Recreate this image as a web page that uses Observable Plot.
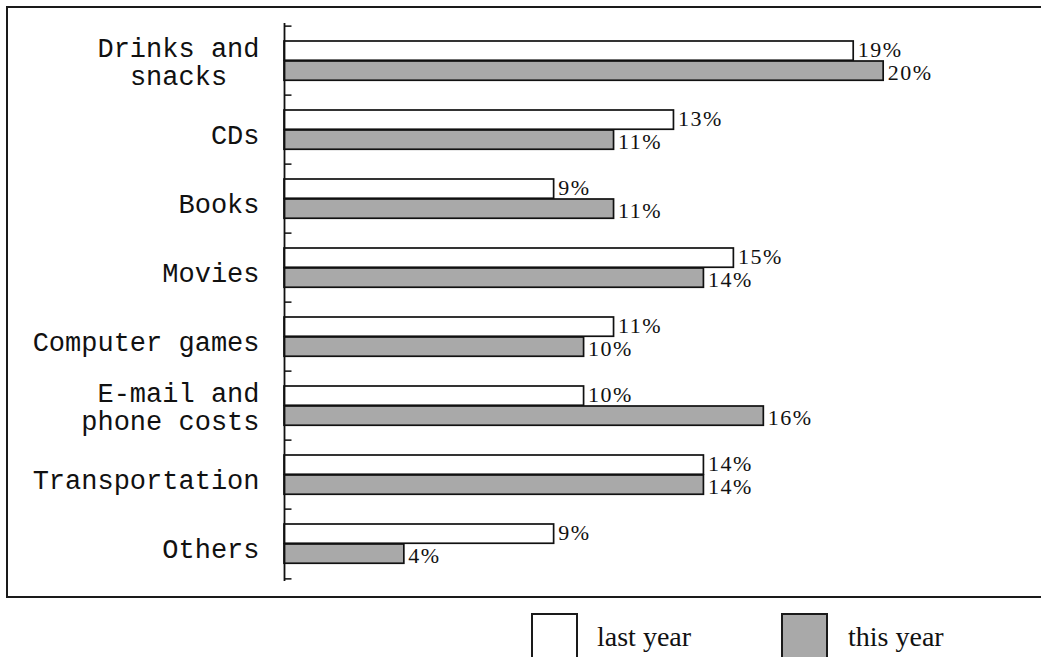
<!DOCTYPE html>
<html>
<head>
<meta charset="utf-8">
<script src="https://cdn.jsdelivr.net/npm/d3@7"></script>
<script src="https://cdn.jsdelivr.net/npm/@observablehq/plot@0.6"></script>
<style>
  html, body { margin: 0; padding: 0; background: #fff; overflow: hidden; width: 1041px; height: 657px; }
  #chart { position: absolute; left: 0; top: 0; }
  .ln { position: absolute; background: #1a1a1a; pointer-events: none; }
  .sw { position: absolute; top: 613px; width: 43px; height: 44px; border: 2px solid #1a1a1a; }
  .lt { position: absolute; top: 620px; font-family: "Liberation Serif", "Times New Roman", serif; font-size: 28px; color: #111; line-height: 34px; }
</style>
</head>
<body>
<div id="chart"></div>
<div class="ln" style="left:6px; top:6px; width:1035px; height:2px;"></div>
<div class="ln" style="left:6px; top:596px; width:1035px; height:2px;"></div>
<div class="ln" style="left:6px; top:6px; width:2px; height:592px;"></div>
<div class="sw" id="sw1" style="left:531px; background:#fff;"></div>
<div class="lt" id="lt1" style="left:597px;"></div>
<div class="sw" id="sw2" style="left:781px; background:#a9a9a9;"></div>
<div class="lt" id="lt2" style="left:848px;"></div>
<script>
const categories = ["Drinks and\nsnacks", "CDs", "Books", "Movies", "Computer games", "E-mail and\nphone costs", "Transportation", "Others"];
const lastYear = [19, 13, 9, 15, 11, 10, 14, 9];
const thisYear = [20, 11, 11, 14, 10, 16, 14, 4];
const seriesNames = ["last year", "this year"];
const seriesColors = ["#ffffff", "#a9a9a9"];

const W = 1041, H = 600, mTop = 23, mBottom = 19, mLeft = 284, mRight = 38;
const band = (H - mTop - mBottom) / categories.length;

const lastData = categories.map((c, i) => ({category: c, value: lastYear[i], series: seriesNames[0]}));
const thisData = categories.map((c, i) => ({category: c, value: thisYear[i], series: seriesNames[1]}));

const singleLine = categories.filter(c => !c.includes("\n"));
const multiLine = categories.filter(c => c.includes("\n"));

const barStyle = {stroke: "#111", strokeWidth: 1.7};
const labelStyle = {fontFamily: "Liberation Serif, Times New Roman, serif", fontSize: 22, fill: "#111", textAnchor: "start", dx: 4};
const axisStyle = {tickSize: 0, tickPadding: 25, fontSize: 27, label: null, lineHeight: 1.02,
  tickFormat: d => d.replace("snacks", "snacks\u00A0\u00A0")};

const chart = Plot.plot({
  width: W,
  height: H,
  marginTop: mTop,
  marginBottom: mBottom,
  marginLeft: mLeft,
  marginRight: mRight,
  style: {fontFamily: "Liberation Mono, Courier New, monospace", fontSize: "27px", background: "transparent", color: "#111"},
  x: {domain: [0, 24], axis: null},
  y: {domain: categories, padding: 0, label: null, axis: null},
  marks: [
    Plot.axisY({...axisStyle, ticks: singleLine, dy: 5}),
    Plot.axisY({...axisStyle, ticks: multiLine, dy: 1}),
    Plot.barX(lastData, {x: "value", y: "category", fill: seriesColors[0], insetTop: 15, insetBottom: band - 35, ...barStyle}),
    Plot.barX(thisData, {x: "value", y: "category", fill: seriesColors[1], insetTop: 35, insetBottom: band - 55, ...barStyle}),
    Plot.text(lastData, {x: "value", y: "category", text: d => d.value + "%", dy: -11.5, ...labelStyle}),
    Plot.text(thisData, {x: "value", y: "category", text: d => d.value + "%", dy: 11.5, ...labelStyle}),
    Plot.ruleY(categories, {y: d => d, x1: 0, x2: 0.25, dy: -band / 2, stroke: "#111", strokeWidth: 1.5}),
    Plot.ruleY(categories.slice(-1), {y: d => d, x1: 0, x2: 0.25, dy: band / 2, stroke: "#111", strokeWidth: 1.5}),
    Plot.ruleX([0], {stroke: "#111", strokeWidth: 1.8})
  ]
});
d3.select(chart).selectAll('g[aria-label="text"]').attr("letter-spacing", "1.5px");
document.getElementById("chart").appendChild(chart);
document.getElementById("lt1").textContent = seriesNames[0];
document.getElementById("lt2").textContent = seriesNames[1];
</script>
</body>
</html>
